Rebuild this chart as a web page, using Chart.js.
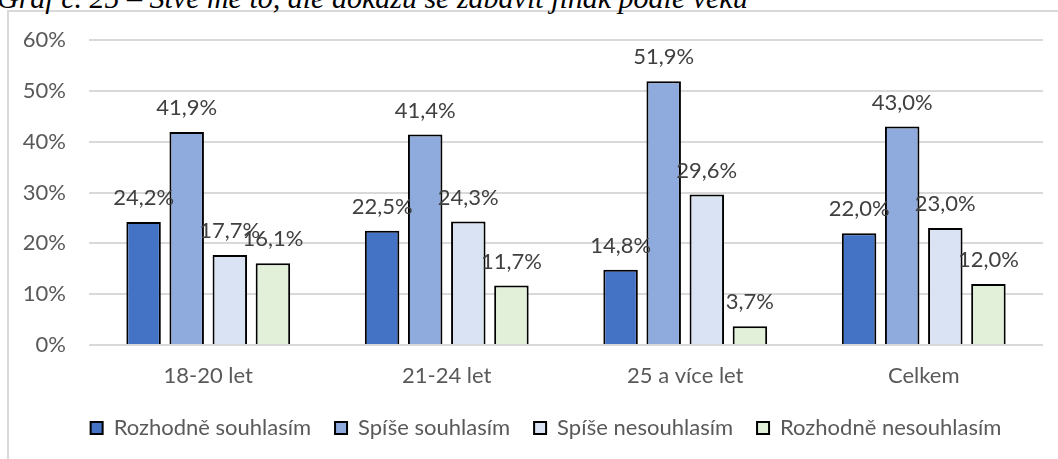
<!DOCTYPE html>
<html>
<head>
<meta charset="utf-8">
<script src="https://cdn.jsdelivr.net/npm/chart.js@4"></script>
<style>
  html, body { margin: 0; padding: 0; background: #fff; overflow: hidden; width: 1058px; height: 459px; }
  #frame { position: absolute; left: 7px; top: 10px; width: 1200px; height: 600px; border: 2px solid #D9D9D9; box-sizing: border-box; }
  #title { position: absolute; left: -3px; top: -17px; font-family: "Liberation Serif", serif; font-style: italic; font-size: 30px; line-height: 30px; white-space: nowrap; color: #000; }
  #c { position: absolute; left: 0; top: 0; }
</style>
</head>
<body>
<div id="frame"></div>
<div id="title">Graf č. 25 – Štve mě to, ale dokážu se zabavit jinak podle věku</div>
<canvas id="c" width="1058" height="459"></canvas>
<script>
const categories = ['18-20 let', '21-24 let', '25 a více let', 'Celkem'];
const seriesNames = ['Rozhodně souhlasím', 'Spíše souhlasím', 'Spíše nesouhlasím', 'Rozhodně nesouhlasím'];
const rozhodneSouhlasim = [24.2, 22.5, 14.8, 22.0];
const spiseSouhlasim = [41.9, 41.4, 51.9, 43.0];
const spiseNesouhlasim = [17.7, 24.3, 29.6, 23.0];
const rozhodneNesouhlasim = [16.1, 11.7, 3.7, 12.0];
const yTickValues = [0, 10, 20, 30, 40, 50, 60];
const seriesColors = ['#4472C4', '#8FAADC', '#DAE3F3', '#E2F0D9'];

const seriesValues = [rozhodneSouhlasim, spiseSouhlasim, spiseNesouhlasim, rozhodneNesouhlasim];

function fmtPct(v) { return v.toFixed(1).replace('.', ',') + '%'; }

const barLabels = {
  id: 'barLabels',
  afterDatasetsDraw(chart) {
    const ctx = chart.ctx;
    ctx.save();
    ctx.font = '22px Lato';
    ctx.fillStyle = '#404040';
    ctx.textAlign = 'center';
    ctx.textBaseline = 'middle';
    chart.data.datasets.forEach((ds, i) => {
      const meta = chart.getDatasetMeta(i);
      meta.data.forEach((bar, j) => {
        ctx.fillText(fmtPct(ds.data[j]), bar.x, bar.y - 24);
      });
    });
    ctx.restore();
  }
};

// centre the legend row like the original (slightly left of plot centre)
const legendShift = {
  id: 'legendShift',
  afterLayout(chart) {
    if (chart.legend) { chart.legend.left += 29; }
  }
};

Chart.defaults.font.family = 'Lato';
Chart.defaults.font.size = 22;
Chart.defaults.color = '#595959';

new Chart(document.getElementById('c'), {
  type: 'bar',
  data: {
    labels: categories,
    datasets: seriesNames.map((name, i) => ({
      label: name,
      data: seriesValues[i],
      backgroundColor: seriesColors[i],
      borderColor: '#000000',
      borderWidth: 2,
      barPercentage: 0.8,
      categoryPercentage: 0.723
    }))
  },
  options: {
    responsive: false,
    animation: false,
    devicePixelRatio: 1,
    layout: { padding: { left: 20, right: 15, top: 40, bottom: 10 } },
    plugins: {
      legend: {
        position: 'bottom',
        labels: {
          boxWidth: 12,
          boxHeight: 12,
          padding: 24,
          color: '#595959',
          font: { size: 22 }
        }
      },
      tooltip: { enabled: false },
      title: { display: false }
    },
    scales: {
      x: {
        grid: { display: false, drawTicks: false },
        border: { display: false },
        ticks: { padding: 18, color: '#595959', font: { size: 22 } },
        afterFit(scale) { scale.height = 48; }
      },
      y: {
        min: 0,
        max: 60,
        afterBuildTicks(scale) { scale.ticks = yTickValues.map(v => ({ value: v })); },
        grid: { color: '#D9D9D9', lineWidth: 2, drawTicks: false },
        border: { display: false },
        ticks: { padding: 23, color: '#595959', font: { size: 22 }, callback: v => v + '%' },
        afterFit(scale) { scale.width = 69; }
      }
    }
  },
  plugins: [barLabels, legendShift]
});
</script>
</body>
</html>
